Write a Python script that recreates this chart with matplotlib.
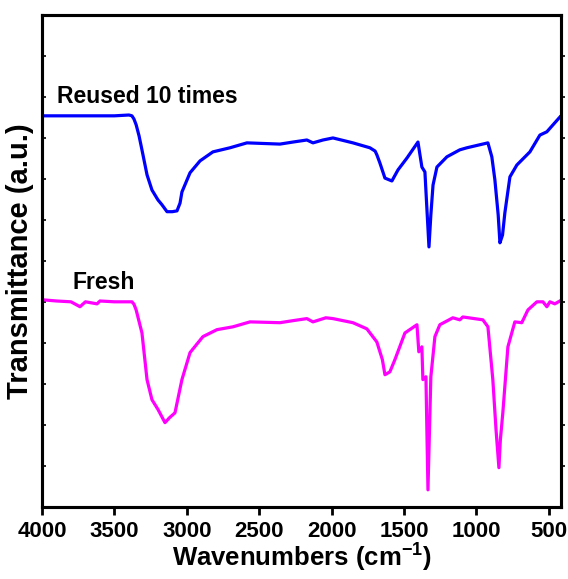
# FTIR spectra of fresh and reused catalyst

import matplotlib
matplotlib.use("Agg")
import matplotlib.pyplot as plt

plt.rcParams["font.family"] = ["Liberation Sans", "DejaVu Sans"]
plt.rcParams["font.weight"] = "bold"
plt.rcParams["mathtext.fontset"] = "custom"
plt.rcParams["mathtext.rm"] = "Liberation Sans:bold"
plt.rcParams["mathtext.bf"] = "Liberation Sans:bold"
plt.rcParams["mathtext.default"] = "bf"

# reused 10 times (blue)
wn_reused = [4000, 3700, 3500, 3400, 3379, 3365, 3350, 3330, 3310, 3275, 3241, 3200,
             3172, 3137, 3100, 3068, 3047, 3034, 2978, 2909, 2820, 2702, 2585, 2357,
             2267, 2171, 2129, 2060, 1991, 1853, 1736, 1700, 1688, 1667, 1632, 1584,
             1542, 1480, 1404, 1377, 1356, 1340, 1328, 1315, 1300, 1273, 1204, 1115,
             1066, 921, 894, 873, 850, 838, 820, 804, 769, 721, 631, 562, 514, 459, 424]
t_reused = [9.54, 9.54, 9.54, 9.56, 9.54, 9.46, 9.32, 9.05, 8.71, 8.10, 7.73, 7.49,
            7.37, 7.20, 7.20, 7.22, 7.41, 7.68, 8.15, 8.44, 8.66, 8.76, 8.88, 8.85,
            8.90, 8.95, 8.88, 8.95, 9.00, 8.88, 8.76, 8.68, 8.59, 8.39, 8.02, 7.95,
            8.22, 8.51, 8.90, 8.29, 8.17, 7.12, 6.34, 7.12, 7.85, 8.29, 8.54, 8.71,
            8.76, 8.88, 8.54, 7.98, 7.12, 6.44, 6.63, 7.17, 8.05, 8.34, 8.66, 9.07,
            9.15, 9.37, 9.51]

# fresh (magenta)
wn_fresh = [4000, 3900, 3800, 3738, 3700, 3620, 3600, 3500, 3379, 3365, 3350, 3310,
            3275, 3241, 3199, 3151, 3120, 3082, 3034, 2978, 2889, 2792, 2681, 2564,
            2357, 2267, 2171, 2129, 2040, 1991, 1853, 1757, 1688, 1650, 1632, 1598,
            1563, 1494, 1411, 1398, 1377, 1370, 1349, 1335, 1315, 1287, 1253, 1163,
            1115, 1094, 956, 921, 887, 865, 845, 835, 818, 783, 735, 687, 645, 583,
            541, 514, 493, 459, 424]
t_fresh = [5.05, 5.02, 5.00, 4.88, 5.00, 4.95, 5.02, 5.00, 5.00, 4.94, 4.80, 4.24,
           3.10, 2.61, 2.37, 2.05, 2.17, 2.29, 3.10, 3.76, 4.15, 4.32, 4.39, 4.51,
           4.49, 4.54, 4.59, 4.51, 4.61, 4.59, 4.49, 4.34, 4.02, 3.59, 3.22, 3.29,
           3.59, 4.24, 4.44, 3.78, 3.90, 3.10, 3.17, 0.41, 3.17, 4.15, 4.44, 4.61,
           4.56, 4.63, 4.56, 4.39, 3.10, 1.88, 0.95, 1.63, 2.29, 3.90, 4.51, 4.49,
           4.80, 5.00, 5.00, 4.88, 5.00, 4.95, 5.02]

x_ticks = [4000, 3500, 3000, 2500, 2000, 1500, 1000, 500]

fig = plt.figure(figsize=(5.68, 5.79), dpi=100)
ax = fig.add_axes([0.074, 0.125, 0.914, 0.849])

ax.plot(wn_reused, t_reused, color="#0000ff", lw=2.3)
ax.plot(wn_fresh, t_fresh, color="#ff00ff", lw=2.3)

ax.text(3896, 10.02, "Reused 10 times", fontsize=16.5, fontweight="bold", va="center")
ax.text(3793, 5.46, "Fresh", fontsize=16.5, fontweight="bold", va="center")

ax.set_xlim(4000, 415)
ax.set_ylim(0, 12)
ax.set_xticks(x_ticks)
ax.set_yticks(range(1, 12))
ax.set_yticklabels([])
ax.tick_params(axis="x", direction="out", length=6, width=2, labelsize=16, pad=4)
ax.tick_params(axis="y", direction="in", length=3, width=1.2)
for lab in ax.get_xticklabels():
    lab.set_fontweight("bold")

# right side ticks point outward
ax2 = ax.twinx()
ax2.set_ylim(0, 12)
ax2.set_yticks(range(1, 12))
ax2.set_yticklabels([])
ax2.tick_params(axis="y", direction="out", length=3, width=1.2)

for a in (ax, ax2):
    for s in a.spines.values():
        s.set_linewidth(2.2)

ax.set_xlabel(r"Wavenumbers (cm$^{-1}$)", fontsize=18.5, fontweight="bold", labelpad=0)
ax.set_ylabel("Transmittance (a.u.)", fontsize=21, fontweight="bold", labelpad=2)

fig.savefig("out.png", dpi=100)
